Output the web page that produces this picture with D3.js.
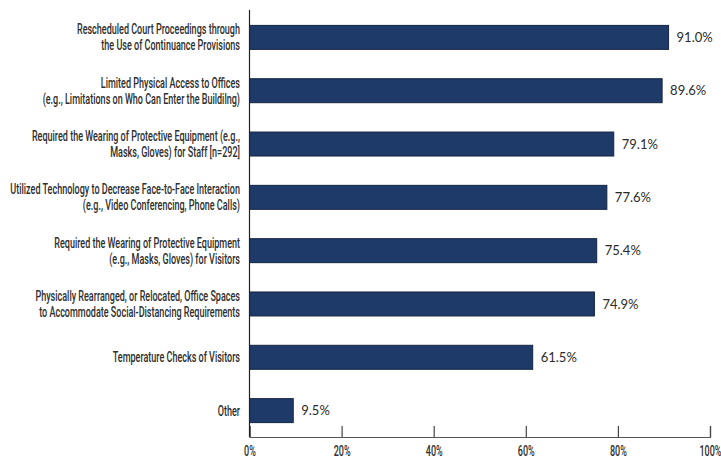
<!DOCTYPE html>
<html>
<head>
<meta charset="utf-8">
<script src="https://cdn.jsdelivr.net/npm/d3@7"></script>
<style>
  html, body { margin: 0; padding: 0; background: #fff; }
  svg { display: block; }
  .cat { font-family: "Roboto", "Liberation Sans", sans-serif; font-weight: 500; fill: #2e2e2e; }
  .val { font-family: "Lato", "Open Sans", sans-serif; fill: #2a2a2a; }
  .tick-label { font-family: "Roboto", "Liberation Sans", sans-serif; font-weight: 500; fill: #2e2e2e; }
</style>
</head>
<body>
<svg id="chart" width="721" height="461"></svg>
<script>
// Measures taken, with share of respondents (%)
const categories = [
  ["Rescheduled Court Proceedings through", "the Use of Continuance Provisions"],
  ["Limited Physical Access to Offices", "(e.g., Limitations on Who Can Enter the Buildilng)"],
  ["Required the Wearing of Protective Equipment (e.g.,", "Masks, Gloves) for Staff [n=292]"],
  ["Utilized Technology to Decrease Face-to-Face Interaction", "(e.g., Video Conferencing, Phone Calls)"],
  ["Required the Wearing of Protective Equipment", "(e.g., Masks, Gloves) for Visitors"],
  ["Physically Rearranged, or Relocated, Office Spaces", "to Accommodate Social-Distancing Requirements"],
  ["Temperature Checks of Visitors"],
  ["Other"]
];
const values = [91.0, 89.6, 79.1, 77.6, 75.4, 74.9, 61.5, 9.5];
const tickValues = [0, 20, 40, 60, 80, 100];

const svg = d3.select("#chart");
const plotLeft = 249.5, plotRight = 710, plotTop = 11, plotBottom = 437;
const labelRight = 240, labelWidth = 230;   // room for the widest category line

const x = d3.scaleLinear().domain([0, 100]).range([plotLeft, plotRight]);
const y = d3.scaleBand().domain(d3.range(values.length)).range([plotTop, plotBottom]).paddingInner(0.55).paddingOuter(0.27);

// bars
svg.selectAll("rect.bar").data(values).join("rect")
  .attr("class", "bar")
  .attr("x", x(0))
  .attr("y", (d, i) => y(i))
  .attr("width", d => x(d) - x(0))
  .attr("height", y.bandwidth())
  .attr("fill", "#1d3a69")
  .attr("stroke", "#142544")
  .attr("stroke-width", 1);

// value labels
svg.selectAll("text.val").data(values).join("text")
  .attr("class", "val")
  .attr("x", d => x(d) + 8)
  .attr("y", (d, i) => y(i) + y.bandwidth() / 2)
  .attr("dy", "0.35em")
  .attr("font-size", 13)
  .text(d => d.toFixed(1) + "%");

// category labels (condensed horizontally so the longest line fits)
const lineH = 16;
const cats = svg.selectAll("text.cat").data(categories).join("text")
  .attr("class", "cat")
  .attr("text-anchor", "end")
  .attr("font-size", 14);
cats.selectAll("tspan").data(d => d.map((t, k) => ({t, k, n: d.length}))).join("tspan")
  .attr("x", 0)
  .attr("y", d => (d.k - (d.n - 1) / 2) * lineH)
  .attr("dy", "0.35em")
  .text(d => d.t);
let widest = 0;
cats.selectAll("tspan").each(function () { widest = Math.max(widest, this.getComputedTextLength()); });
const squeeze = Math.min(1, labelWidth / widest);
cats.attr("transform", (d, i) => `translate(${labelRight},${y(i) + y.bandwidth() / 2}) scale(${squeeze},1)`);

// x axis
const xAxis = d3.axisBottom(x).tickValues(tickValues).tickFormat(d => d + "%").tickSize(-11).tickPadding(9);
const gx = svg.append("g").attr("transform", `translate(0,${plotBottom})`).call(xAxis);
gx.select(".domain").attr("stroke", "#555").attr("stroke-width", 1.2);
gx.selectAll(".tick line").attr("stroke", "#444").attr("stroke-width", 1.2);
gx.selectAll(".tick text")
  .attr("class", "tick-label")
  .attr("font-size", 14)
  .attr("transform", `scale(${squeeze},1)`);

// y axis line
svg.append("line")
  .attr("x1", plotLeft).attr("x2", plotLeft)
  .attr("y1", plotTop - 1).attr("y2", plotBottom)
  .attr("stroke", "#222").attr("stroke-width", 1.2);
</script>
</body>
</html>
